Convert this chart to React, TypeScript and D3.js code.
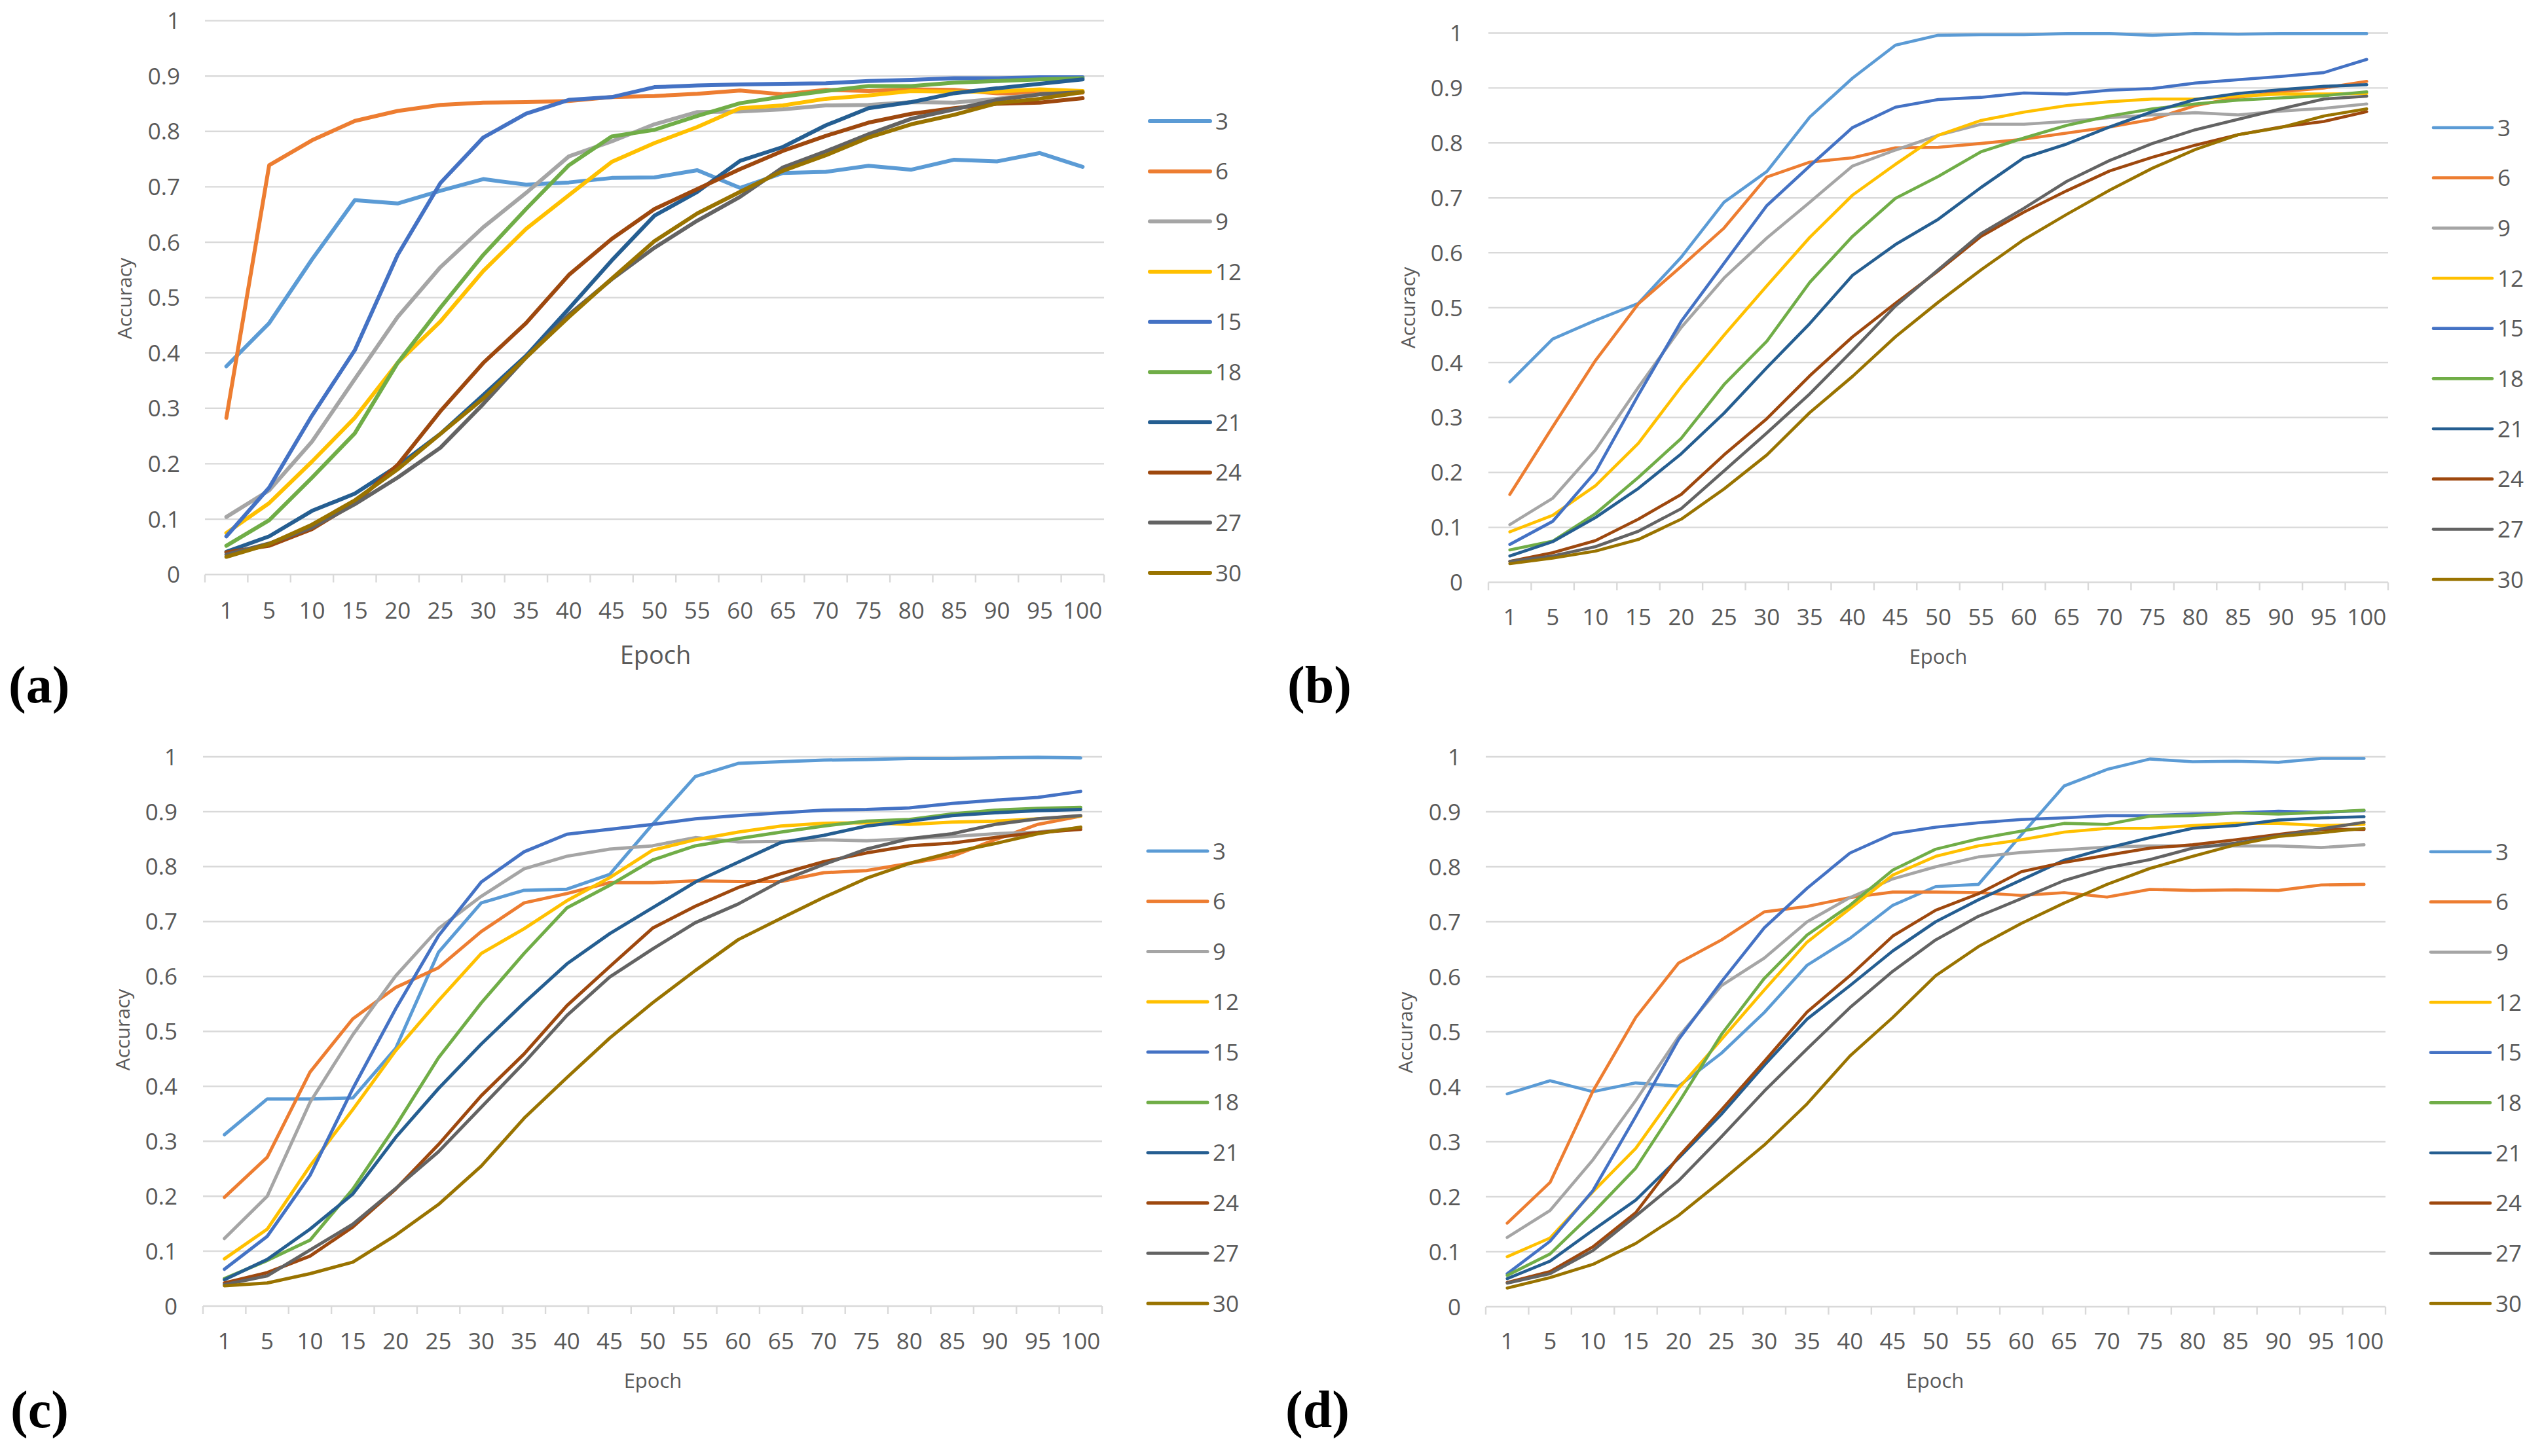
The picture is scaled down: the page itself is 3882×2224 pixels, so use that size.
import { useMemo } from "react";
import { line, range, scaleBand, scaleLinear } from "d3";

const W = 3882;
const H = 2224;

const epochs = ["1", "5", "10", "15", "20", "25", "30", "35", "40", "45", "50", "55", "60", "65", "70", "75", "80", "85", "90", "95", "100"];
const seriesNames = ["3", "6", "9", "12", "15", "18", "21", "24", "27", "30"];
const seriesColors = ["#5B9BD5", "#ED7D31", "#A5A5A5", "#FFC000", "#4472C4", "#70AD47", "#255E91", "#9E480E", "#636363", "#997300"];
const yTicks = [0, 0.1, 0.2, 0.3, 0.4, 0.5, 0.6, 0.7, 0.8, 0.9, 1];
const yTickLabels = ["0", "0.1", "0.2", "0.3", "0.4", "0.5", "0.6", "0.7", "0.8", "0.9", "1"];

// one row per series (3, 6, 9 ... 30), one value per epoch
const accA = [
  [0.376, 0.454, 0.569, 0.676, 0.670, 0.693, 0.714, 0.704, 0.708, 0.716, 0.717, 0.730, 0.698, 0.725, 0.727, 0.738, 0.731, 0.749, 0.746, 0.761, 0.736],
  [0.283, 0.739, 0.784, 0.819, 0.837, 0.848, 0.852, 0.853, 0.855, 0.862, 0.864, 0.868, 0.874, 0.867, 0.875, 0.873, 0.876, 0.875, 0.869, 0.869, 0.870],
  [0.104, 0.152, 0.240, 0.353, 0.465, 0.555, 0.627, 0.689, 0.755, 0.782, 0.813, 0.835, 0.836, 0.840, 0.847, 0.848, 0.853, 0.852, 0.859, 0.867, 0.871],
  [0.075, 0.129, 0.204, 0.283, 0.382, 0.457, 0.548, 0.624, 0.685, 0.745, 0.779, 0.808, 0.842, 0.847, 0.859, 0.865, 0.873, 0.872, 0.872, 0.876, 0.873],
  [0.069, 0.157, 0.287, 0.405, 0.577, 0.707, 0.789, 0.832, 0.857, 0.862, 0.880, 0.883, 0.885, 0.886, 0.887, 0.891, 0.893, 0.896, 0.896, 0.898, 0.898],
  [0.052, 0.098, 0.175, 0.255, 0.382, 0.482, 0.577, 0.660, 0.739, 0.791, 0.803, 0.828, 0.851, 0.863, 0.873, 0.882, 0.882, 0.888, 0.891, 0.894, 0.896],
  [0.041, 0.069, 0.115, 0.146, 0.196, 0.254, 0.324, 0.395, 0.480, 0.567, 0.648, 0.691, 0.747, 0.772, 0.811, 0.842, 0.853, 0.869, 0.878, 0.886, 0.894],
  [0.040, 0.052, 0.082, 0.129, 0.198, 0.295, 0.382, 0.454, 0.541, 0.606, 0.660, 0.696, 0.732, 0.765, 0.792, 0.816, 0.832, 0.842, 0.850, 0.852, 0.860],
  [0.036, 0.056, 0.085, 0.127, 0.175, 0.229, 0.308, 0.392, 0.469, 0.533, 0.590, 0.639, 0.682, 0.735, 0.764, 0.795, 0.823, 0.840, 0.857, 0.867, 0.871],
  [0.032, 0.055, 0.090, 0.134, 0.190, 0.254, 0.318, 0.392, 0.465, 0.534, 0.602, 0.652, 0.691, 0.729, 0.757, 0.789, 0.813, 0.830, 0.851, 0.859, 0.871],
];

const accB = [
  [0.365, 0.443, 0.477, 0.508, 0.592, 0.692, 0.748, 0.847, 0.918, 0.978, 0.996, 0.997, 0.997, 0.999, 0.999, 0.996, 0.999, 0.998, 0.999, 0.999, 0.999],
  [0.160, 0.283, 0.404, 0.507, 0.575, 0.645, 0.738, 0.765, 0.773, 0.791, 0.792, 0.799, 0.807, 0.818, 0.829, 0.843, 0.868, 0.883, 0.893, 0.900, 0.912],
  [0.105, 0.153, 0.241, 0.355, 0.464, 0.554, 0.627, 0.692, 0.758, 0.787, 0.814, 0.834, 0.834, 0.839, 0.846, 0.851, 0.855, 0.851, 0.858, 0.863, 0.871],
  [0.092, 0.122, 0.176, 0.253, 0.356, 0.450, 0.540, 0.628, 0.705, 0.761, 0.814, 0.841, 0.856, 0.868, 0.875, 0.880, 0.880, 0.885, 0.889, 0.889, 0.890],
  [0.069, 0.111, 0.201, 0.341, 0.475, 0.581, 0.686, 0.758, 0.828, 0.865, 0.879, 0.883, 0.891, 0.889, 0.896, 0.899, 0.909, 0.915, 0.921, 0.928, 0.952],
  [0.059, 0.075, 0.125, 0.191, 0.262, 0.360, 0.439, 0.546, 0.630, 0.699, 0.739, 0.784, 0.809, 0.832, 0.849, 0.862, 0.871, 0.878, 0.882, 0.886, 0.893],
  [0.048, 0.074, 0.118, 0.171, 0.234, 0.308, 0.391, 0.471, 0.559, 0.615, 0.661, 0.719, 0.773, 0.798, 0.829, 0.857, 0.879, 0.890, 0.897, 0.903, 0.906],
  [0.038, 0.054, 0.076, 0.115, 0.160, 0.232, 0.298, 0.376, 0.447, 0.508, 0.567, 0.630, 0.674, 0.713, 0.749, 0.774, 0.796, 0.815, 0.829, 0.839, 0.857],
  [0.038, 0.048, 0.065, 0.093, 0.134, 0.203, 0.272, 0.343, 0.422, 0.503, 0.569, 0.635, 0.681, 0.730, 0.768, 0.799, 0.824, 0.843, 0.862, 0.880, 0.885],
  [0.034, 0.044, 0.057, 0.078, 0.115, 0.170, 0.232, 0.309, 0.375, 0.447, 0.510, 0.569, 0.624, 0.670, 0.714, 0.754, 0.788, 0.815, 0.828, 0.849, 0.862],
];

const accC = [
  [0.312, 0.377, 0.377, 0.379, 0.469, 0.644, 0.734, 0.757, 0.759, 0.786, 0.877, 0.964, 0.988, 0.991, 0.994, 0.995, 0.997, 0.997, 0.998, 0.999, 0.998],
  [0.198, 0.271, 0.426, 0.523, 0.580, 0.616, 0.682, 0.734, 0.751, 0.771, 0.771, 0.774, 0.773, 0.773, 0.789, 0.793, 0.806, 0.819, 0.849, 0.877, 0.892],
  [0.123, 0.200, 0.371, 0.494, 0.601, 0.687, 0.746, 0.796, 0.819, 0.832, 0.838, 0.853, 0.845, 0.846, 0.849, 0.847, 0.851, 0.855, 0.860, 0.863, 0.871],
  [0.086, 0.140, 0.255, 0.358, 0.465, 0.556, 0.642, 0.687, 0.738, 0.780, 0.830, 0.849, 0.863, 0.874, 0.879, 0.880, 0.877, 0.881, 0.883, 0.887, 0.892],
  [0.067, 0.127, 0.238, 0.396, 0.541, 0.674, 0.772, 0.827, 0.859, 0.868, 0.877, 0.887, 0.893, 0.898, 0.903, 0.904, 0.907, 0.915, 0.921, 0.926, 0.937],
  [0.050, 0.083, 0.120, 0.213, 0.328, 0.452, 0.552, 0.642, 0.725, 0.766, 0.812, 0.838, 0.851, 0.863, 0.874, 0.883, 0.886, 0.896, 0.903, 0.906, 0.908],
  [0.048, 0.085, 0.140, 0.204, 0.307, 0.396, 0.477, 0.552, 0.623, 0.678, 0.725, 0.772, 0.808, 0.844, 0.857, 0.874, 0.883, 0.893, 0.898, 0.902, 0.904],
  [0.042, 0.061, 0.091, 0.144, 0.213, 0.294, 0.383, 0.459, 0.547, 0.618, 0.688, 0.728, 0.762, 0.787, 0.809, 0.825, 0.838, 0.843, 0.853, 0.862, 0.868],
  [0.039, 0.055, 0.102, 0.149, 0.214, 0.281, 0.362, 0.443, 0.529, 0.599, 0.650, 0.698, 0.732, 0.774, 0.804, 0.832, 0.851, 0.860, 0.877, 0.887, 0.893],
  [0.037, 0.042, 0.059, 0.080, 0.129, 0.185, 0.255, 0.342, 0.416, 0.488, 0.552, 0.611, 0.667, 0.706, 0.744, 0.779, 0.806, 0.826, 0.842, 0.860, 0.872],
];

const accD = [
  [0.387, 0.411, 0.391, 0.407, 0.401, 0.461, 0.535, 0.621, 0.670, 0.730, 0.764, 0.768, 0.858, 0.947, 0.977, 0.996, 0.991, 0.992, 0.990, 0.997, 0.997],
  [0.152, 0.226, 0.392, 0.526, 0.625, 0.667, 0.718, 0.728, 0.744, 0.754, 0.754, 0.753, 0.748, 0.753, 0.745, 0.759, 0.757, 0.758, 0.757, 0.767, 0.768],
  [0.126, 0.175, 0.267, 0.375, 0.491, 0.584, 0.634, 0.700, 0.744, 0.778, 0.800, 0.818, 0.826, 0.831, 0.836, 0.838, 0.838, 0.838, 0.838, 0.835, 0.840],
  [0.091, 0.125, 0.209, 0.288, 0.397, 0.486, 0.576, 0.663, 0.724, 0.785, 0.819, 0.838, 0.849, 0.863, 0.870, 0.870, 0.875, 0.879, 0.879, 0.875, 0.877],
  [0.060, 0.119, 0.211, 0.346, 0.486, 0.591, 0.689, 0.761, 0.825, 0.860, 0.872, 0.880, 0.886, 0.889, 0.893, 0.893, 0.896, 0.898, 0.901, 0.899, 0.902],
  [0.057, 0.096, 0.171, 0.252, 0.371, 0.495, 0.597, 0.676, 0.730, 0.794, 0.832, 0.851, 0.865, 0.879, 0.877, 0.892, 0.893, 0.898, 0.896, 0.899, 0.903],
  [0.051, 0.083, 0.139, 0.194, 0.270, 0.350, 0.439, 0.523, 0.584, 0.647, 0.700, 0.740, 0.776, 0.812, 0.834, 0.853, 0.870, 0.875, 0.885, 0.889, 0.891],
  [0.044, 0.064, 0.109, 0.171, 0.273, 0.358, 0.446, 0.536, 0.602, 0.674, 0.721, 0.751, 0.791, 0.808, 0.821, 0.834, 0.840, 0.849, 0.859, 0.868, 0.868],
  [0.043, 0.060, 0.102, 0.165, 0.229, 0.309, 0.392, 0.469, 0.544, 0.610, 0.667, 0.710, 0.742, 0.775, 0.798, 0.813, 0.834, 0.843, 0.856, 0.869, 0.881],
  [0.034, 0.053, 0.077, 0.115, 0.166, 0.229, 0.294, 0.369, 0.456, 0.526, 0.602, 0.655, 0.697, 0.734, 0.768, 0.797, 0.819, 0.840, 0.855, 0.862, 0.870],
];

type Layout = {
  tag: string;
  data: number[][];
  left: number; right: number; top: number; bottom: number;
  yLabX: number; accX: number; accY: number; xLabY: number;
  epochX: number; epochY: number; epochSize: number;
  tagX: number; tagY: number;
  legX0: number; legX1: number; legTx: number; legY0: number; legY9: number;
  stroke: number;
};

const panels: Layout[] = [
  { tag: "(a)", data: accA, left: 313, right: 1686, top: 31.6, bottom: 877.6, yLabX: 275, accX: 190, accY: 456, xLabY: 932,
    epochX: 1001, epochY: 1000, epochSize: 38, tagX: 13, tagY: 1073, legX0: 1756, legX1: 1848, legTx: 1856, legY0: 185, legY9: 875, stroke: 6 },
  { tag: "(b)", data: accB, left: 2273, right: 3647, top: 50.5, bottom: 889.5, yLabX: 2234, accX: 2150, accY: 470, xLabY: 942,
    epochX: 2960, epochY: 1003, epochSize: 31, tagX: 1966, tagY: 1073, legX0: 3716, legX1: 3806, legTx: 3814, legY0: 195, legY9: 885, stroke: 4.6 },
  { tag: "(c)", data: accC, left: 310, right: 1683, top: 1156, bottom: 1995, yLabX: 271, accX: 187, accY: 1573, xLabY: 2048,
    epochX: 997, epochY: 2109, epochSize: 31, tagX: 16, tagY: 2180, legX0: 1753, legX1: 1844, legTx: 1852, legY0: 1300, legY9: 1991, stroke: 5 },
  { tag: "(d)", data: accD, left: 2269, right: 3643, top: 1156, bottom: 1996, yLabX: 2231, accX: 2146, accY: 1577, xLabY: 2048,
    epochX: 2955, epochY: 2109, epochSize: 31, tagX: 1963, tagY: 2180, legX0: 3712, legX1: 3803, legTx: 3811, legY0: 1301, legY9: 1991, stroke: 4.6 },
];

const FONT = "'Open Sans', 'Noto Sans', sans-serif";
const TEXT = "#595959";
const GRID = "#D9D9D9";

function Panel({ p }: { p: Layout }) {
  const x = useMemo(() => scaleBand<string>().domain(epochs).range([p.left, p.right]).paddingInner(0).paddingOuter(0), [p]);
  const y = useMemo(() => scaleLinear().domain([0, 1]).range([p.bottom, p.top]), [p]);
  const legY = scaleLinear().domain([0, seriesNames.length - 1]).range([p.legY0, p.legY9]);
  const path = line<number>()
    .x((_, i) => (x(epochs[i]) ?? 0) + x.bandwidth() / 2)
    .y((v) => y(v));

  const edges = range(epochs.length + 1).map((i) => p.left + i * x.bandwidth());

  return (
    <g>
      {yTicks.map((t, i) => (
        <g key={t}>
          <line x1={p.left} x2={p.right} y1={y(t)} y2={y(t)} stroke={GRID} strokeWidth={2.4} />
          <text x={p.yLabX} y={y(t)} dy="0.36em" textAnchor="end" fontSize={35} fill={TEXT}>
            {yTickLabels[i]}
          </text>
        </g>
      ))}
      {edges.map((ex) => (
        <line key={ex} x1={ex} x2={ex} y1={p.bottom} y2={p.bottom + 12} stroke={GRID} strokeWidth={2.4} />
      ))}
      {epochs.map((e) => (
        <text key={e} x={(x(e) ?? 0) + x.bandwidth() / 2} y={p.xLabY} dy="0.36em" textAnchor="middle" fontSize={35} fill={TEXT}>
          {e}
        </text>
      ))}
      <text transform={`translate(${p.accX},${p.accY}) rotate(-90)`} dy="0.36em" textAnchor="middle" fontSize={30} fill={TEXT}>
        Accuracy
      </text>
      <text x={p.epochX} y={p.epochY} dy="0.36em" textAnchor="middle" fontSize={p.epochSize} fill={TEXT}>
        Epoch
      </text>

      {p.data.map((vals, si) => (
        <path key={si} d={path(vals) ?? undefined} fill="none" stroke={seriesColors[si]} strokeWidth={p.stroke}
          strokeLinejoin="round" strokeLinecap="round" />
      ))}

      {seriesNames.map((n, i) => (
        <g key={n}>
          <line x1={p.legX0} x2={p.legX1} y1={legY(i)} y2={legY(i)} stroke={seriesColors[i]} strokeWidth={p.stroke} strokeLinecap="round" />
          <text x={p.legTx} y={legY(i)} dy="0.36em" fontSize={35} fill={TEXT}>{n}</text>
        </g>
      ))}

      <text x={p.tagX} y={p.tagY} fontFamily="'Liberation Serif', 'DejaVu Serif', serif" fontWeight="bold" fontSize={80} fill="#000">
        {p.tag}
      </text>
    </g>
  );
}

export default function App() {
  return (
    <svg width={W} height={H} viewBox={`0 0 ${W} ${H}`} fontFamily={FONT}
      style={{ position: "absolute", left: 0, top: 0, background: "#fff" }}>
      <rect width={W} height={H} fill="#fff" />
      {panels.map((p) => <Panel key={p.tag} p={p} />)}
    </svg>
  );
}
